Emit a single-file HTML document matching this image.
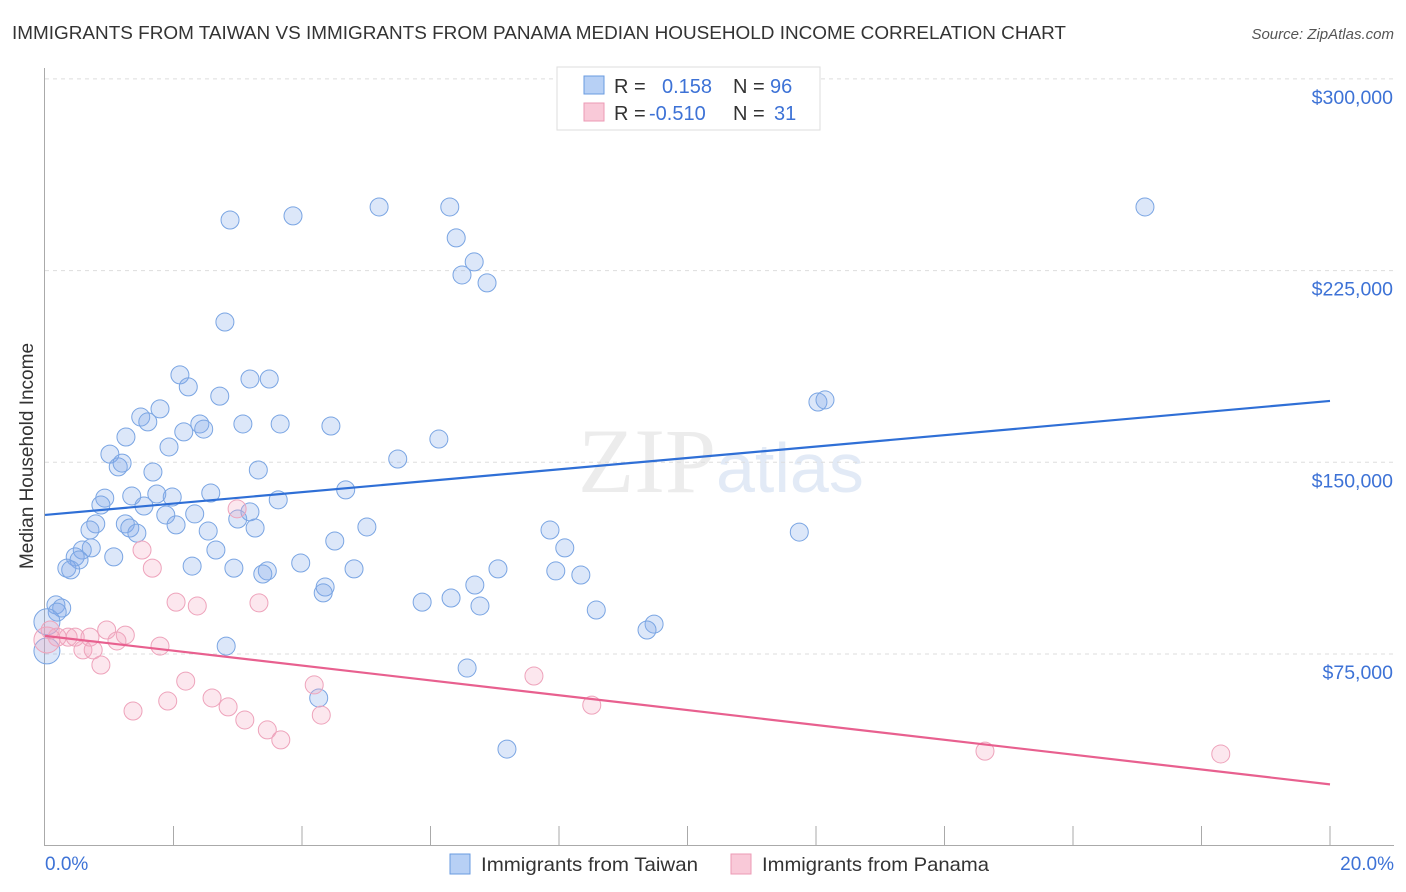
<!DOCTYPE html>
<html><head><meta charset="utf-8"><style>
body{margin:0;background:#fff;font-family:"Liberation Sans",sans-serif;}
#wrap{position:relative;width:1406px;height:892px;overflow:hidden}
</style></head><body><div id="wrap">
<svg id="svg" width="1406" height="892" xmlns="http://www.w3.org/2000/svg">
<text x="12" y="39" font-size="18" fill="#333" textLength="1054" lengthAdjust="spacingAndGlyphs">IMMIGRANTS FROM TAIWAN VS IMMIGRANTS FROM PANAMA MEDIAN HOUSEHOLD INCOME CORRELATION CHART</text>
<text x="1394" y="39" font-size="15" fill="#555" font-style="italic" text-anchor="end">Source: ZipAtlas.com</text>
<text x="716" y="492" font-size="92" fill="#ececec" text-anchor="end" font-family="Liberation Serif,serif">ZIP</text>
<text x="716" y="492" font-size="70" fill="#e2eaf6">atlas</text>
<g id="grid"></g><g id="axes"></g><g id="pts"></g><g id="lines"></g>
<text x="33" y="456" font-size="19" fill="#333" text-anchor="middle" transform="rotate(-90 33 456)">Median Household Income</text>
<text x="45" y="870" font-size="19" fill="#3d72d6">0.0%</text>
<text x="1394" y="870" font-size="19" fill="#3d72d6" text-anchor="end">20.0%</text>
<g>
<rect x="557" y="67" width="263" height="63" fill="#fff" stroke="#ddd"/>
<rect x="584" y="76" width="20" height="18" fill="#b7d0f5" stroke="#6a9be0"/>
<rect x="584" y="103" width="20" height="18" fill="#f9c9d8" stroke="#ec9ab5"/>
<text x="614" y="93" font-size="20" fill="#333">R =</text><text x="662" y="93" font-size="20" fill="#3d72d6">0.158</text>
<text x="733" y="93" font-size="20" fill="#333">N =</text><text x="770" y="93" font-size="20" fill="#3d72d6">96</text>
<text x="614" y="120" font-size="20" fill="#333">R =</text><text x="649" y="120" font-size="20" fill="#3d72d6">-0.510</text>
<text x="733" y="120" font-size="20" fill="#333">N =</text><text x="774" y="120" font-size="20" fill="#3d72d6">31</text>
</g>
<g>
<rect x="450" y="854" width="20" height="20" fill="#b7d0f5" stroke="#6a9be0"/>
<text x="481" y="871" font-size="19.5" fill="#333" textLength="217" lengthAdjust="spacingAndGlyphs">Immigrants from Taiwan</text>
<rect x="731" y="854" width="20" height="20" fill="#f9c9d8" stroke="#ec9ab5"/>
<text x="762" y="871" font-size="19.5" fill="#333" textLength="227" lengthAdjust="spacingAndGlyphs">Immigrants from Panama</text>
</g>
</svg></div>
<script>
const yTicks=[75000,150000,225000,300000];
const yTickLabels=["$75,000","$150,000","$225,000","$300,000"];
const taiwanX=[2.88,3.86,5.20,6.30,17.12,6.40,6.68,6.49,6.88,2.80,2.10,3.19,3.49,2.23,2.72,1.49,1.79,1.60,2.41,2.47,2.16,3.08,3.66,4.45,1.26,6.13,1.93,1.01,1.68,1.14,1.20,3.32,5.49,12.03,12.14,0.93,1.35,0.87,1.74,1.54,1.98,2.58,4.68,3.63,1.88,2.33,3.00,3.19,0.79,1.25,1.32,1.43,0.70,3.27,2.04,2.54,5.01,7.86,11.74,4.51,8.09,0.72,0.58,0.47,2.66,1.07,0.53,3.98,2.29,2.94,3.46,3.39,0.34,0.40,4.81,7.05,7.95,8.34,6.69,4.36,4.33,5.87,6.32,6.77,8.58,0.17,0.26,0.19,9.48,9.37,2.82,6.57,4.26,7.19,0.03,0.03];
const taiwanY=[244.8,246.4,249.9,249.9,249.9,237.8,228.4,223.3,220.2,204.9,184.2,182.6,182.6,179.5,175.9,167.7,170.9,165.8,165.0,163.0,161.9,165.0,165.0,164.2,159.9,159.1,156.0,153.2,146.2,148.2,149.7,147.0,151.3,173.6,174.4,136.0,136.8,133.3,137.6,132.9,136.4,138.0,139.2,135.3,129.4,129.8,127.8,130.6,125.9,125.9,124.3,122.3,123.5,124.3,125.5,123.1,124.7,123.5,122.7,119.2,116.5,116.5,115.7,113.0,115.7,113.0,111.8,110.6,109.4,108.6,107.5,106.3,108.6,107.9,108.3,108.3,107.5,105.9,102.0,101.2,98.9,95.3,96.9,93.8,92.2,94.2,93.0,91.4,86.7,84.4,78.1,69.5,57.8,37.8,76.2,87.6];
const panamaX=[2.99,1.51,1.67,2.04,2.37,3.33,0.96,1.25,1.12,1.79,0.36,0.47,0.70,0.19,0.08,0.59,0.75,0.87,2.19,2.60,1.91,2.85,1.37,3.11,3.46,3.67,4.19,4.30,7.61,8.51,14.63,18.30,0.03];
const panamaY=[131.8,115.7,108.6,95.3,93.8,95.0,84.4,82.4,80.1,78.1,81.6,81.6,81.6,81.6,84.4,76.6,76.6,70.7,64.4,57.8,56.6,54.3,52.7,49.2,45.3,41.4,62.9,51.1,66.4,55.0,37.0,35.9,80.5];
const taiwanTrend=[129.4,174.0];
const panamaTrend=[82.1,24.0];
const NS="http://www.w3.org/2000/svg";
const X=v=>45+v/20*1285, Y=v=>845.7-v/75000*191.7;
function mk(tag,attrs,parent){const e=document.createElementNS(NS,tag);for(const k in attrs)e.setAttribute(k,attrs[k]);document.getElementById(parent).appendChild(e);return e;}
yTicks.forEach((t,i)=>{
 const g=mk('line',{x1:45,x2:1394,y1:Y(t),y2:Y(t),stroke:'#ddd','stroke-dasharray':'4,4'},'grid');
 
 
 const tx=mk('text',{x:1393,y:Y(t)+25,'font-size':19.5,fill:'#3d72d6','text-anchor':'end'},'grid');
 tx.textContent=yTickLabels[i];
 
 
});
mk('line',{x1:44.5,x2:44.5,y1:68,y2:846,stroke:'#aaa'},'axes');
mk('line',{x1:44,x2:1394,y1:845.5,y2:845.5,stroke:'#aaa'},'axes');
for(let p=2;p<=20;p+=2){
 const t=mk('line',{x1:X(p),x2:X(p),y1:826,y2:846,stroke:'#aaa'},'axes');
 
 
}
function pts(xs,ys,fill,stroke,name){
 xs.forEach((x,i)=>{
  const big=(x<0.05);
  const c=mk('circle',{cx:X(x),cy:Y(ys[i]*1000),r:big?13:9,fill:fill,stroke:stroke,'stroke-width':1},'pts');
  
  
 });
}
pts(taiwanX,taiwanY,'rgba(130,170,235,0.28)','#7aa5e3','taiwan-point');
pts(panamaX,panamaY,'rgba(245,170,195,0.28)','#eea3bb','panama-point');
const l1=mk('line',{x1:X(0),x2:X(20),y1:Y(taiwanTrend[0]*1000),y2:Y(taiwanTrend[1]*1000),stroke:'#2f6fd6','stroke-width':2.2},'lines');


const l2=mk('line',{x1:X(0),x2:X(20),y1:Y(panamaTrend[0]*1000),y2:Y(panamaTrend[1]*1000),stroke:'#e8608f','stroke-width':2.2},'lines');


</script></body></html>
